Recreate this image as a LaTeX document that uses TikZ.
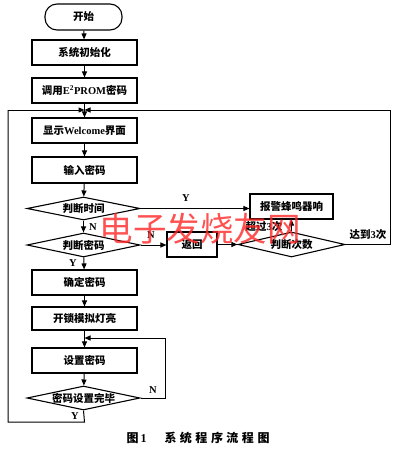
\documentclass[tikz,border=0pt]{standalone}
\usepackage{fontspec}
\newfontfamily\cjk{Noto Sans CJK SC}
\newfontfamily\lat{Liberation Serif}
\usetikzlibrary{shapes.geometric,arrows.meta}
\begin{document}
\begin{tikzpicture}[x=1pt,y=-1pt,
  every node/.style={font=\cjk\bfseries\fontsize{10.5}{12}\selectfont, inner sep=0pt},
  box/.style={draw, line width=1.1pt, minimum width=105pt, minimum height=25pt},
  dia/.style={draw, line width=1.1pt, diamond, aspect=4.7, minimum width=113pt, minimum height=24pt, inner sep=0pt},
  arr/.style={line width=1pt, -{Triangle[length=6pt,width=5pt]}},
  ln/.style={line width=1pt},
  lbl/.style={font=\lat\bfseries\fontsize{10.5}{12}\selectfont}]
\useasboundingbox (0,0) rectangle (400,460);
\fill[white] (0,0) rectangle (400,460);
% main column
\node[draw, line width=1.1pt, rounded corners=12pt, minimum width=77pt, minimum height=26pt] (start) at (83.5,17) {开始};
\node[box] (init) at (84.5,52.5) {系统初始化};
\node[box] (eprom) at (84.5,90.5) {调用{\lat\bfseries E\textsuperscript{2}PROM}密码};
\coordinate (j1) at (84.5,110);
\node[box] (welcome) at (84.5,130.5) {显示{\lat\bfseries Welcome}界面};
\node[box, minimum height=26pt] (input) at (84.5,170) {输入密码};
\node[dia, minimum height=23pt] (d1) at (83.5,208.5) {判断时间};
\node[dia] (d2) at (83.5,245) {判断密码};
\node[box] (confirm) at (84.5,282.5) {确定密码};
\node[box, minimum height=23pt] (unlock) at (84.5,318.5) {开锁模拟灯亮};
\coordinate (j2) at (84.5,338);
\node[box] (setpw) at (84.5,360.5) {设置密码};
\node[dia] (d3) at (83.5,398) {密码设置完毕};
% right side
\node[box, minimum width=83pt] (alarm) at (291.5,206.5) {报警蜂鸣器响};
\node[box, minimum width=50pt] (back) at (192,244.5) {返回};
\node[dia, minimum width=107pt, minimum height=25pt] (d4) at (291.5,244.5) {判断次数};
% connectors
\draw[arr] (start) -- (init);
\draw[arr] (init) -- (eprom);
\draw[arr] (eprom) -- (welcome);
\draw[arr] (welcome) -- (input);
\draw[arr] (input) -- (d1);
\draw[arr] (d1) -- (d2);
\draw[arr] (d2) -- (confirm);
\draw[arr] (confirm) -- (unlock);
\draw[arr] (unlock) -- (setpw);
\draw[arr] (setpw) -- (d3);
\draw[arr] (d1.east) -- (d1.east -| alarm.west);
\draw[arr] (d2.east) -- (d2.east -| back.west);
\draw[arr] (back.east) -- (d4.west);
\draw[arr] (d4.north) -- (alarm.south);
\coordinate (r1) at (390,244.5);
\coordinate (r2) at (390,110);
\draw[ln] (d4.east) -- (r1) -- (r2);
\draw[arr] (r2) -- (j1);
\coordinate (n1) at (165,398);
\coordinate (n2) at (165,338);
\draw[ln] (d3.east) -- (n1) -- (n2);
\draw[arr] (n2) -- (j2);
\coordinate (y1) at (84.5,422);
\coordinate (y2) at (8,422);
\coordinate (y3) at (8,110);
\draw[ln] (d3.south) -- (y1) -- (y2) -- (y3);
\draw[arr] (y3) -- (j1);
% labels
\node[lbl] (ly) at (186,198) {Y};
\node[lbl] (ln1) at (93,227) {N};
\node[lbl] (ln2) at (151,235) {N};
\node[lbl] (ly2) at (73,263) {Y};
\node[lbl] (ln3) at (153,390) {N};
\node[lbl] (ly3) at (75,416) {Y};
\node (over) at (264,227) {超过{\lat\bfseries 3}次};
\node (reach) at (368,235) {达到{\lat\bfseries 3}次};
% caption
\node[font=\cjk\bfseries\fontsize{12}{14}\selectfont] (cap) at (198,438) {图\,{\lat\bfseries 1}\hspace{18pt}系\hspace{3.5pt}统\hspace{3.5pt}程\hspace{3.5pt}序\hspace{3.5pt}流\hspace{3.5pt}程\hspace{3.5pt}图};
% watermark
\node[font=\cjk\fontsize{33.5}{35}\selectfont, text=red!85!white, opacity=0.8] (wm) at (200,229) {电子发烧友网};
\end{tikzpicture}
\end{document}
